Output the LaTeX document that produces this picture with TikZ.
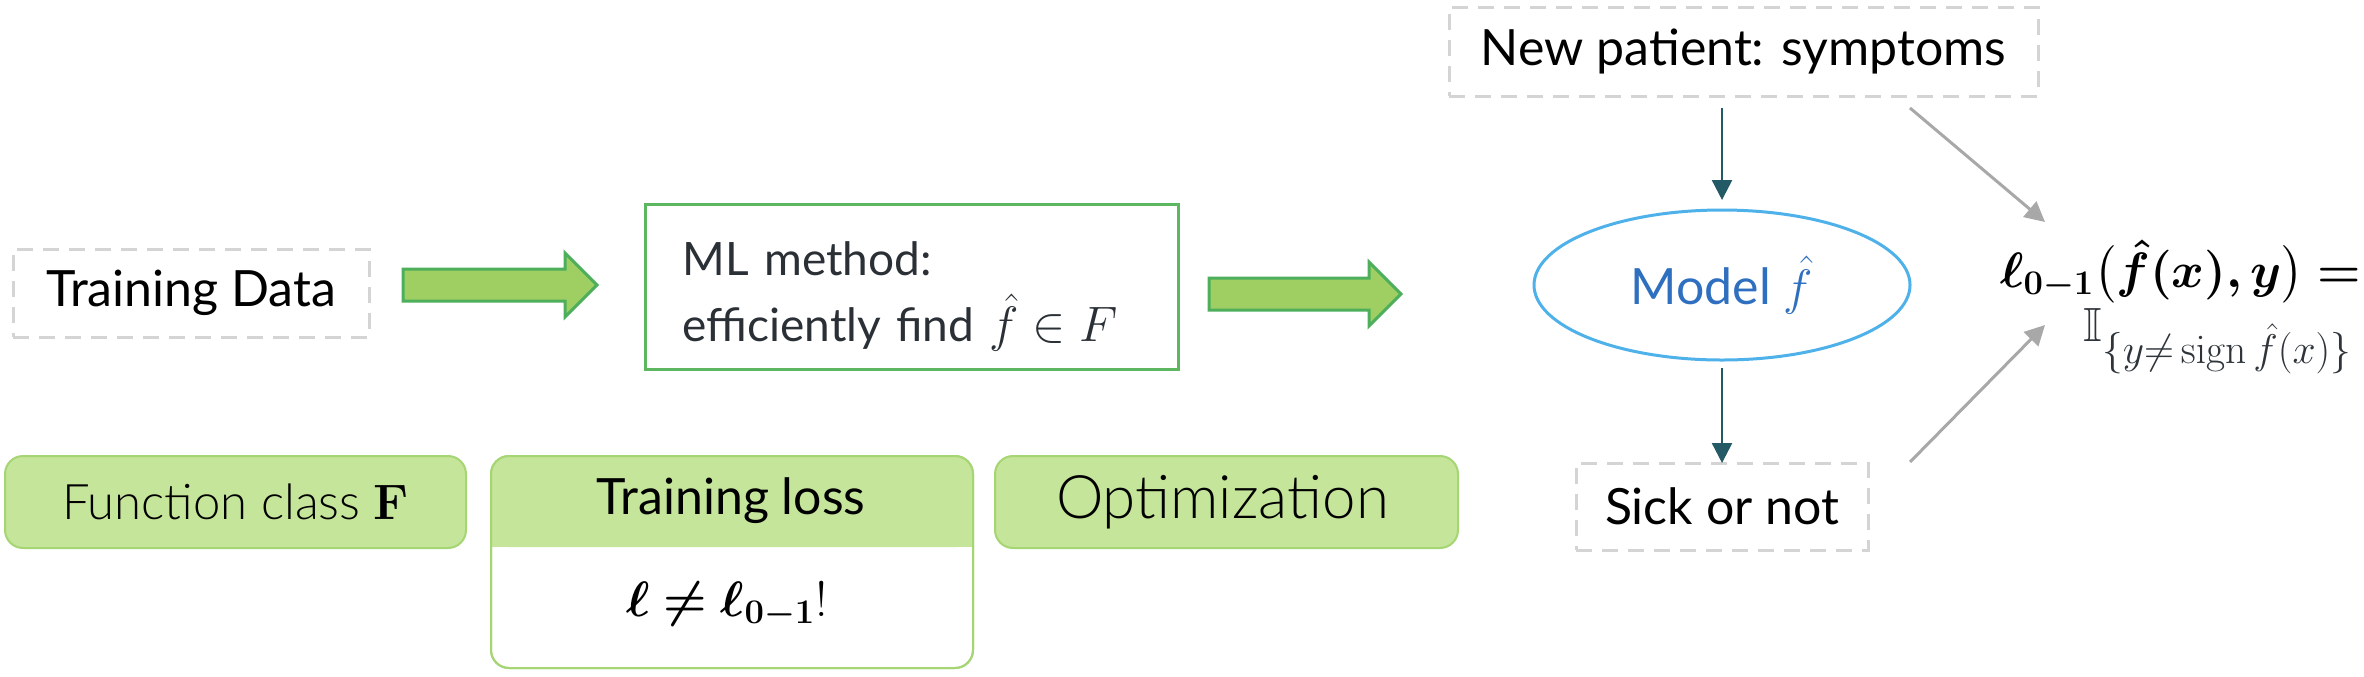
\documentclass[tikz,border=0pt]{standalone}
\usepackage{amsmath,amssymb,bm}
\usepackage[no-math]{fontspec}
\setmainfont{Lato}
\newfontfamily\lightfont{Lato Light}
\usetikzlibrary{shapes.geometric,arrows.meta}
\definecolor{dashgray}{HTML}{D4D4D4}
\definecolor{arrowfill}{HTML}{9FCF62}
\definecolor{arrowedge}{HTML}{4DAE5B}
\definecolor{mledge}{HTML}{5DB760}
\definecolor{mltext}{HTML}{2A3035}
\definecolor{boxfill}{HTML}{C5E59A}
\definecolor{boxedge}{HTML}{A6D574}
\definecolor{ellblue}{HTML}{4EB1EA}
\definecolor{modelblue}{HTML}{2F6FBF}
\definecolor{teal}{HTML}{245A66}
\definecolor{grayarr}{HTML}{A8A8A8}
\definecolor{indgray}{HTML}{2E343A}
\begin{document}
\begin{tikzpicture}[x=0.5pt,y=-0.5pt,
  every node/.style={inner sep=0pt, outer sep=0pt},
  txt/.style={font=\fontsize{25}{33}\selectfont},
  dashbox/.style={txt, draw=dashgray, line width=1.5pt, dash pattern=on 8pt off 5pt},
  blockarrow/.style={draw=arrowedge, fill=arrowfill, line width=1.5pt, line join=miter},
  mlbox/.style={font=\fontsize{23}{33}\selectfont, draw=mledge, line width=1.5pt, text=mltext},
  greenbox/.style={draw=boxedge, fill=boxfill, line width=1pt, rounded corners=9pt,
    minimum height=46pt},
  tealarrow/.style={draw=teal, line width=1.25pt, -{Triangle[length=10pt,width=10pt]}},
  grayarrow/.style={draw=grayarr, line width=1.5pt, -{Triangle[length=10pt,width=10pt]}},
  mathtxt/.style={font=\fontsize{24}{28}\selectfont}
]
\useasboundingbox (0,0) rectangle (2364,676);

% top row
\node[dashbox, minimum width=178pt, minimum height=44pt] (td) at (191,293) {Training Data};
\path[blockarrow] (403,269) -- (565,269) -- (565,253) -- (597,285) -- (565,317) -- (565,301) -- (403,301) -- cycle;
\node[mlbox, minimum width=266.5pt, minimum height=82.5pt, text width=229pt, align=left] (ml) at (911.5,286.5)
  {\rule{0pt}{27pt}ML method:\\ efficiently find $\hat f\in F$};
\path[blockarrow] (1209,278) -- (1369,278) -- (1369,262) -- (1401,294) -- (1369,326) -- (1369,310) -- (1209,310) -- cycle;

% right part
\node[dashbox, minimum width=294.5pt, minimum height=44.5pt] (np) at (1743.5,51.5) {New patient: symptoms};
\node[ellipse, draw=ellblue, line width=1.5pt, minimum width=188pt, minimum height=75pt, txt, text=modelblue] (model) at (1722,285) {Model $\hat f$};
\node[dashbox, minimum width=146pt, minimum height=43.5pt] (sick) at (1722,506.5) {Sick or not};

\node[mathtxt, anchor=base west] (loss) at (2000,287) {$\bm{\ell_{0-1}\bigl(\hat f(x),y\bigr)=}$};
\node[mathtxt, anchor=base east, text=indgray] (ind) at (2352,341)
  {$\mathbb{I}_{\text{\fontsize{21}{24}\selectfont$\{y{\neq}\operatorname{sign}\hat f(x)\}$}}$};

\draw[tealarrow, shorten <=6pt, shorten >=5pt] (model.north |- np.south) -- (model.north);
\draw[tealarrow, shorten <=4pt] (model.south) -- (sick.north);

\coordinate (g1s) at ([xshift=-64pt,yshift=-6pt]np.south east);
\coordinate (g1e) at ([xshift=22.5pt,yshift=32.5pt]loss.base west);
\coordinate (g2s) at ([xshift=21pt,yshift=0.5pt]sick.north east);
\coordinate (g2e) at ([xshift=22.5pt,yshift=-19pt]loss.base west);
\draw[grayarrow] (g1s) -- (g1e);
\draw[grayarrow] (g2s) -- (g2e);

% bottom row
\node[greenbox, minimum width=230.5pt, font=\lightfont\fontsize{24.5}{30}\selectfont] (fc) at (235.5,502) {Function class $\mathbf{F}$};
\node[greenbox, minimum width=231.5pt, font=\lightfont\fontsize{30}{34}\selectfont] (opt) at (1226.5,502) {\hspace*{-4pt}Optimization};

\node[draw=boxedge, line width=1pt, fill=white, rounded corners=9pt, minimum width=241pt, minimum height=106pt] (tl) at (732,562) {};
\path (tl.north) ++(0,91) coordinate (hb);
\fill[boxfill, rounded corners=9pt] (tl.north west) rectangle (tl.east |- hb);
\fill[boxfill] ([yshift=12pt]tl.west |- hb) rectangle (tl.east |- hb);
\draw[draw=boxedge, line width=1pt, rounded corners=9pt] (tl.north west) rectangle (tl.south east);
\node[txt] (tlh) at (731,501) {Training loss};
\node[font=\fontsize{23}{27}\selectfont] (tlm) at (727,605) {$\bm{\ell\neq\ell_{0-1}}!$};
\end{tikzpicture}
\end{document}
